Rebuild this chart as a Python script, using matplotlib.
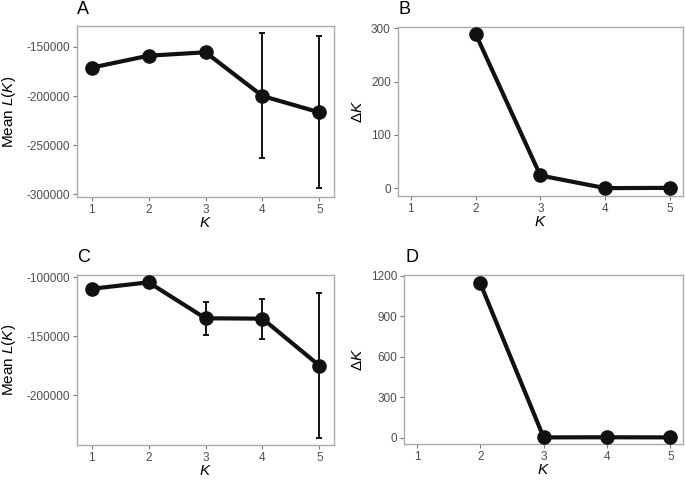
# -*- coding: utf-8 -*-
import numpy as np
import matplotlib
matplotlib.use('Agg')
import matplotlib.pyplot as plt

plt.rcParams['font.family'] = ['Liberation Sans', 'DejaVu Sans']
plt.rcParams['mathtext.fontset'] = 'custom'
plt.rcParams['mathtext.rm'] = 'Liberation Sans'
plt.rcParams['mathtext.it'] = 'Liberation Sans:italic'

# %% Data ---------------------------------------------------------------------
K = [1, 2, 3, 4, 5]

# dataset 1
meanL_1 = [-171100, -158900, -155400, -200000, -216700]
lo_1 = [-171100, -158900, -155400, -263300, -294200]
hi_1 = [-171100, -158900, -155400, -136000, -138800]
K_delta = [2, 3, 4, 5]
delta_1 = [290, 24, 0.3, 0.8]

# dataset 2
meanL_2 = [-109700, -104200, -134700, -135000, -174900]
lo_2 = [-109700, -104200, -148900, -152000, -235900]
hi_2 = [-109700, -104200, -120700, -118100, -113600]
delta_2 = [1145, 2, 3, 2]

# %% Style --------------------------------------------------------------------
W, H = 685, 480
grey_tick = '#4D4D4D'
frame = '#ABABAB'


def axes_px(left, top, right, bottom):
    return [left / W, 1 - bottom / H, (right - left) / W, (bottom - top) / H]


def style(ax, xlim, ylim, yticks):
    ax.set_xlim(*xlim)
    ax.set_ylim(*ylim)
    ax.set_xticks(K)
    ax.set_yticks(yticks)
    ax.set_yticklabels([f'{t:d}' for t in yticks])
    for s in ax.spines.values():
        s.set_color(frame)
        s.set_linewidth(1.0)
    ax.tick_params(colors='#7A7A7A', labelcolor=grey_tick, labelsize=8.5,
                   length=3, width=0.8, pad=2)
    ax.set_xlabel('$\\mathit{K}$', fontsize=11, labelpad=0)


fig = plt.figure(figsize=(6.85, 4.8), dpi=100)

line_kw = dict(color='#111111', lw=3.0, marker='o', ms=9.5, zorder=3)
err_kw = dict(fmt='none', ecolor='#111111', elinewidth=1.4, capsize=2.2,
              capthick=1.4, zorder=2)

# A
axA = fig.add_axes(axes_px(77, 26, 334, 197))
yA = np.array(meanL_1)
axA.errorbar(K, yA, yerr=[yA - np.array(lo_1), np.array(hi_1) - yA], **err_kw)
axA.plot(K, meanL_1, **line_kw)
style(axA, (0.745, 5.255), (-303000, -128600),
      [-300000, -250000, -200000, -150000])
axA.set_ylabel('Mean $\\mathit{L}$($\\mathit{K}$)', fontsize=11, labelpad=6)

# B
axB = fig.add_axes(axes_px(397.7, 26.7, 683, 195.7))
axB.plot(K_delta, delta_1, **line_kw)
style(axB, (0.8, 5.2), (-13.9, 303), [0, 100, 200, 300])
axB.set_ylabel('Δ$\\mathit{K}$', fontsize=11, labelpad=4)

# C
axC = fig.add_axes(axes_px(77, 275, 334, 445))
yC = np.array(meanL_2)
axC.errorbar(K, yC, yerr=[yC - np.array(lo_2), np.array(hi_2) - yC], **err_kw)
axC.plot(K, meanL_2, **line_kw)
style(axC, (0.745, 5.255), (-242100, -98000), [-200000, -150000, -100000])
axC.set_ylabel('Mean $\\mathit{L}$($\\mathit{K}$)', fontsize=11, labelpad=6)

# D
axD = fig.add_axes(axes_px(404.3, 275, 683, 444))
axD.plot(K_delta, delta_2, **line_kw)
style(axD, (0.8, 5.2), (-47, 1207), [0, 300, 600, 900, 1200])
axD.set_ylabel('Δ$\\mathit{K}$', fontsize=11, labelpad=4)

# panel letters
for lab, x, y in [('A', 77, 9), ('B', 398, 9), ('C', 77, 258), ('D', 405, 258)]:
    fig.text(x / W, 1 - y / H, lab, fontsize=13, ha='left', va='center')

fig.savefig('out.png', dpi=100)
